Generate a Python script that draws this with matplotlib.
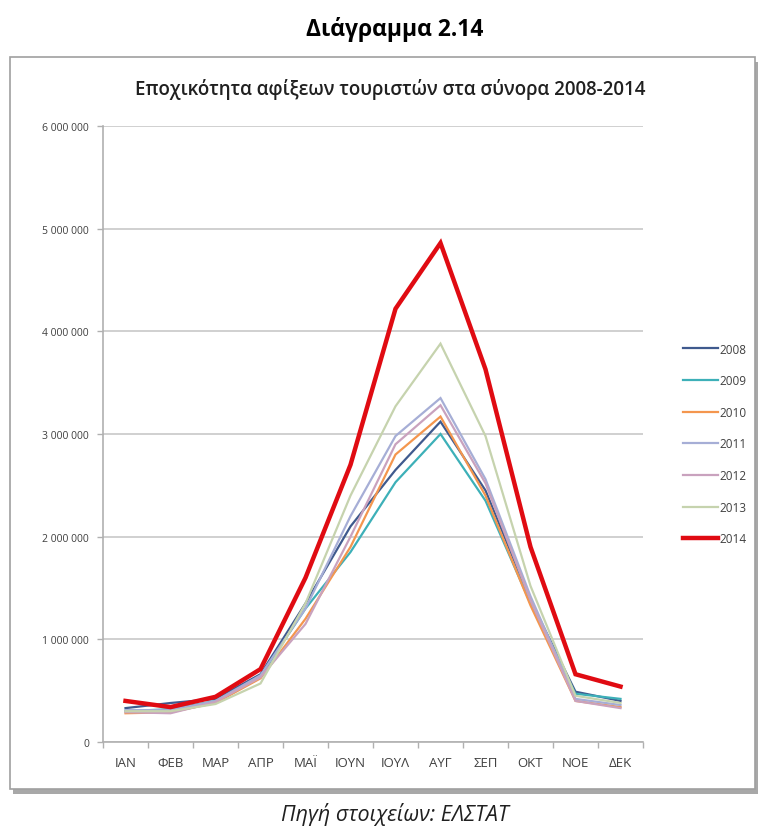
from matplotlib import pyplot as plt
from matplotlib.patches import Rectangle
from matplotlib.lines import Line2D
from matplotlib.ticker import FuncFormatter, FixedLocator
import numpy as np

plt.rcParams['font.family'] = ['Open Sans', 'DejaVu Sans']

# μήνες
months = ["ΙΑΝ", "ΦΕΒ", "ΜΑΡ", "ΑΠΡ", "ΜΑΪ", "ΙΟΥΝ", "ΙΟΥΛ", "ΑΥΓ", "ΣΕΠ", "ΟΚΤ", "ΝΟΕ", "ΔΕΚ"]

# αφίξεις ανά έτος (εκτίμηση από το διάγραμμα)
y2008 = [330000, 380000, 420000, 660000, 1350000, 2100000, 2650000, 3120000, 2450000, 1380000, 490000, 400000]
y2009 = [300000, 320000, 400000, 640000, 1300000, 1850000, 2530000, 3000000, 2350000, 1350000, 470000, 420000]
y2010 = [280000, 290000, 380000, 620000, 1200000, 1900000, 2800000, 3170000, 2400000, 1330000, 400000, 340000]
y2011 = [310000, 310000, 400000, 650000, 1300000, 2200000, 2980000, 3350000, 2560000, 1420000, 420000, 360000]
y2012 = [290000, 280000, 390000, 630000, 1150000, 2000000, 2900000, 3280000, 2520000, 1380000, 400000, 330000]
y2013 = [300000, 300000, 370000, 570000, 1350000, 2400000, 3270000, 3880000, 2980000, 1520000, 450000, 380000]
y2014 = [400000, 340000, 440000, 710000, 1600000, 2700000, 4220000, 4860000, 3630000, 1900000, 660000, 540000]

years = ["2008", "2009", "2010", "2011", "2012", "2013", "2014"]
series = [y2008, y2009, y2010, y2011, y2012, y2013, y2014]
colors = ["#3F5A8E", "#3DB0B8", "#F4964E", "#A6AED6", "#C9A2BE", "#C6D3AE", "#E00B12"]
widths = [1.6, 1.6, 1.6, 1.6, 1.6, 1.6, 3.2]

fig = plt.figure(figsize=(7.65, 8.29), dpi=100)

# πλαίσιο γραφήματος με σκιά
fig.patches.append(Rectangle((13 / 765, 1 - 795 / 829), 745 / 765, 732 / 829,
                             transform=fig.transFigure, facecolor="#A8A8A8",
                             edgecolor="none", zorder=0))
fig.patches.append(Rectangle((10 / 765, 1 - 790 / 829), 745 / 765, 732 / 829,
                             transform=fig.transFigure, facecolor="white",
                             edgecolor="#A0A0A0", linewidth=1.2, zorder=1))

ax = fig.add_axes([103 / 765, 1 - 743 / 829, 540 / 765, 616 / 829])
ax.set_zorder(2)
ax.patch.set_alpha(0)

x = np.arange(len(months))
for s, c, w, lab in zip(series, colors, widths, years):
    ax.plot(x, s, color=c, linewidth=w, label=lab, solid_joinstyle="miter")

ax.set_xlim(-0.5, 11.5)
ax.set_ylim(0, 6000000)
ax.set_yticks(range(0, 6000001, 1000000))
ax.yaxis.set_major_formatter(FuncFormatter(lambda v, p: "{:,.0f}".format(v).replace(",", " ")))
ax.grid(axis="y", color="#C8C8C8", linewidth=1.2)
ax.set_axisbelow(True)

ax.set_xticks(x)
ax.set_xticklabels(months)
ax.xaxis.set_minor_locator(FixedLocator(np.arange(-0.5, 12, 1)))
ax.tick_params(axis="x", which="major", length=0, pad=10, labelsize=9.5, labelcolor="#404040")
ax.tick_params(axis="x", which="minor", length=4, color="#B0B0B0", width=1)
ax.tick_params(axis="y", length=4, color="#B0B0B0", width=1, labelsize=7.5, labelcolor="#404040", pad=6)

for sp in ["top", "right"]:
    ax.spines[sp].set_visible(False)
for sp in ["left", "bottom"]:
    ax.spines[sp].set_color("#B0B0B0")
    ax.spines[sp].set_linewidth(1.2)

handles = [Line2D([0], [0], color=c, linewidth=w) for c, w in zip(colors, widths)]
leg = fig.legend(handles, years, loc="center left", bbox_to_anchor=(672 / 765, 1 - 445 / 829),
                 frameon=False, fontsize=8.5, handlelength=3.0, handletextpad=0.15,
                 labelspacing=1.58, labelcolor="#404040")
leg.set_zorder(3)

fig.text(395 / 765, 1 - 30 / 829, "Διάγραμμα 2.14", ha="center", va="center",
         fontsize=16.5, fontweight="bold")
fig.text(390 / 765, 1 - 90 / 829, "Εποχικότητα αφίξεων τουριστών στα σύνορα 2008-2014",
         ha="center", va="center", fontsize=13.5, fontweight="semibold", color="#202020", zorder=3)
fig.text(395 / 765, 1 - 815 / 829, "Πηγή στοιχείων: ΕΛΣΤΑΤ", ha="center", va="center",
         fontsize=15.5, style="italic", color="#202020")

plt.savefig("out.png", dpi=100)
